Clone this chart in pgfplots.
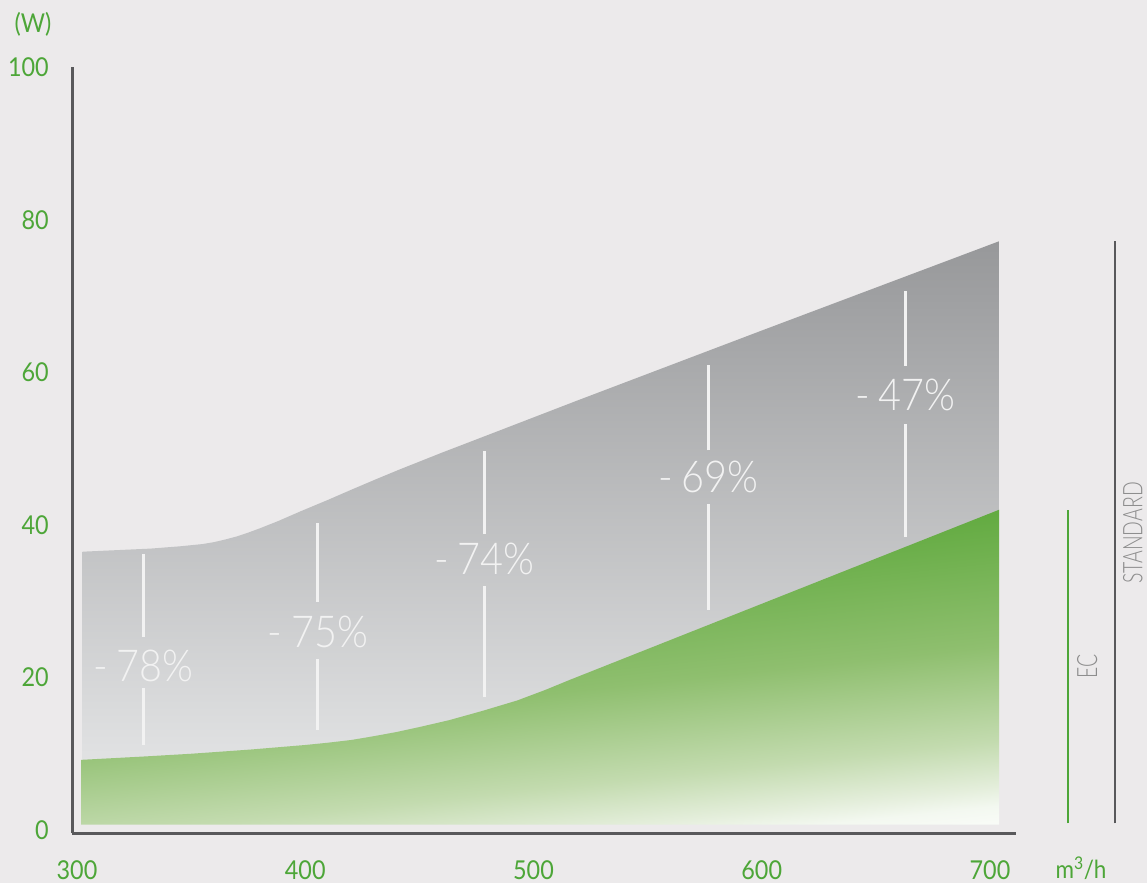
\documentclass[border=0pt]{standalone}
\usepackage{fontspec}
\setmainfont{Lato}[UprightFont=* Light, FakeStretch=0.9]
\newfontfamily\latoreg{Lato}[FakeStretch=0.9]
\usepackage{pgfplots}
\pgfplotsset{compat=1.18}
\definecolor{bg}{RGB}{236,234,235}
\definecolor{axc}{RGB}{89,89,91}
\definecolor{tickg}{RGB}{77,166,56}
\definecolor{lblgray}{RGB}{140,140,140}
\definecolor{wl}{RGB}{242,242,242}
\definecolor{gA}{HTML}{F3F8F0}
\definecolor{gB}{HTML}{E4EEDB}
\definecolor{gC}{HTML}{C3DBAF}
\definecolor{gD}{HTML}{8FBF6F}
\definecolor{gE}{HTML}{58A636}
\definecolor{grT}{HTML}{97989A}
\definecolor{grM}{HTML}{B7B8BA}
\definecolor{grB}{HTML}{EAEBEC}
\pgfdeclareverticalshading{ecshade}{100bp}{color(0bp)=(white); color(20bp)=(white); color(25bp)=(gA); color(27.6bp)=(gB); color(33.7bp)=(gC); color(46.4bp)=(gD); color(68.7bp)=(gE); color(100bp)=(gE)}
\begin{document}
\begin{tikzpicture}
\fill[bg] (0pt,0pt) rectangle (1147pt,883pt);
\path[use as bounding box] (0pt,0pt) rectangle (1147pt,883pt);
\begin{axis}[
  at={(72.43pt,49.95pt)}, anchor=south west,
  scale only axis, width=943.1pt, height=765.55pt,
  xmin=298, xmax=711.2, ymin=-0.4, ymax=100,
  axis x line*=bottom, axis y line*=left,
  axis line style={axc, line width=3pt},
  xtick={300,400,500,600,700}, ytick={0,20,40,60,80,100},
  major tick length=0pt,
  /pgf/number format/assume math mode=true,
  tick label style={font=\latoreg\fontsize{26}{30}\selectfont, text=tickg},
  yticklabel style={anchor=east, inner sep=0pt, xshift=-23.5pt},
  xticklabel style={anchor=center, inner sep=0pt, yshift=-36.7pt},
  clip=false,
]
% STANDARD area
\addplot[draw=none, top color=grT, middle color=grM, bottom color=grB] coordinates {
 (302.5,0.7) (302.5,36.5) (332,36.9) (345,37.2) (355,37.5) (360,37.75) (365,38.1)
 (370,38.5) (375,39.0) (380,39.55) (388,40.5) (398,41.8) (410,43.3) (420,44.6)
 (431,46.0) (441.5,47.3) (460,49.5) (480,51.8) (519,56.3) (600,65.5) (703.9,77.2)
 (703.9,0.7)};
% EC area
\addplot[draw=none, shading=ecshade, shading angle=6] coordinates {
 (301.8,0.7) (301.8,9.2) (330,9.65) (350,10.0) (376,10.55) (400,11.15) (410,11.45)
 (420,11.8) (430,12.3) (440,12.85) (450,13.5) (463,14.4) (478,15.65) (493,17.0)
 (505,18.35) (516,19.7) (704,42.0) (704,0.7)};
% white marker lines
\addplot[wl, line width=3pt] coordinates {(329,25.3) (329,36.2)};
\addplot[wl, line width=3pt] coordinates {(329,11.1) (329,18.6)};
\addplot[wl, line width=3pt] coordinates {(405.5,29.9) (405.5,40.2)};
\addplot[wl, line width=3pt] coordinates {(405.5,13.1) (405.5,22.4)};
\addplot[wl, line width=3pt] coordinates {(478.5,38.8) (478.5,49.7)};
\addplot[wl, line width=3pt] coordinates {(478.5,17.5) (478.5,32.0)};
\addplot[wl, line width=3pt] coordinates {(576.6,49.8) (576.6,61.0)};
\addplot[wl, line width=3pt] coordinates {(576.6,28.9) (576.6,42.8)};
\addplot[wl, line width=3pt] coordinates {(662.9,60.9) (662.9,70.7)};
\addplot[wl, line width=3pt] coordinates {(662.9,38.4) (662.9,53.2)};
% side legend lines
\addplot[tickg, line width=2pt] coordinates {(734.0,0.88) (734.0,42.0)};
\addplot[axc, line width=2pt] coordinates {(754.8,0.88) (754.8,77.2)};
% labels
\tikzset{pct/.style={text=wl, inner sep=0pt, font=\fontsize{44}{50}\selectfont}}
\node[pct] at (axis cs:329,21.5) {-\hspace{0.2em}78\%};
\node[pct] at (axis cs:405.5,26.0) {-\hspace{0.2em}75\%};
\node[pct] at (axis cs:478.5,35.5) {-\hspace{0.2em}74\%};
\node[pct] at (axis cs:576.6,46.3) {-\hspace{0.2em}69\%};
\node[pct] at (axis cs:662.9,57.0) {-\hspace{0.2em}47\%};
\node[rotate=90, text=lblgray, inner sep=0pt, font=\fontsize{28}{32}\selectfont] at (axis cs:742.6,21.4) {\scalebox{0.77}[1]{EC}};
\node[rotate=90, text=lblgray, inner sep=0pt, font=\fontsize{27}{32}\selectfont] at (axis cs:762.6,38.95) {\scalebox{0.8}[1]{STANDARD}};
\node[text=tickg, inner sep=0pt, font=\latoreg\fontsize{26}{30}\selectfont] at (axis cs:280.7,105.7) {(W)};
\node[text=tickg, inner sep=0pt, font=\latoreg\fontsize{25}{30}\selectfont] at (axis cs:739.9,-4.95) {m\textsuperscript{3}/h};
\end{axis}
\end{tikzpicture}
\end{document}
